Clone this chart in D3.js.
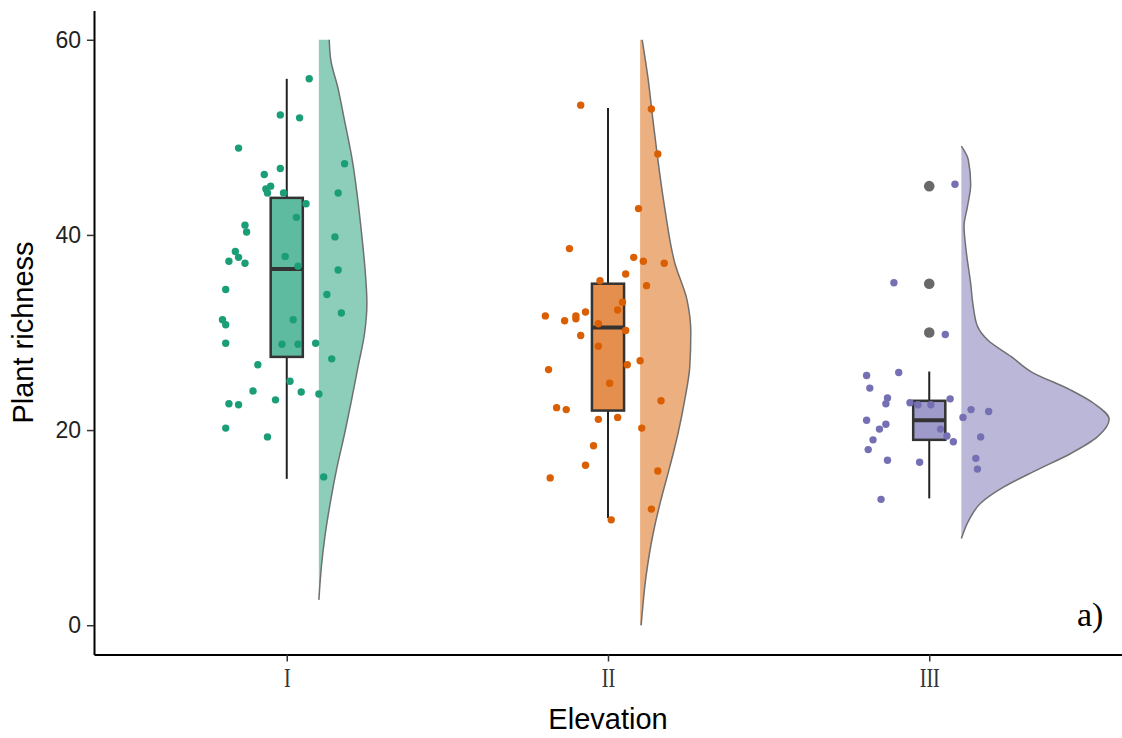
<!DOCTYPE html>
<html>
<head>
<meta charset="utf-8">
<script src="https://cdn.jsdelivr.net/npm/d3@7"></script>
<style>
  body { margin: 0; background: #fff; }
  svg { display: block; }
</style>
</head>
<body>
<div id="chart"></div>
<script>
// Elevation classes and their colours (Dark2)
const groups = ['I', 'II', 'III'];
const colors = ['#1B9E77', '#D95F02', '#7570B3'];

// plant richness of each plot, as plotted (jittered) in the figure
const richI = [56.0, 52.3, 52.0, 48.9, 47.3, 46.2, 46.8, 45.0, 44.7, 44.3, 44.3, 44.3, 43.2, 41.8,
  41.0, 40.3, 39.8, 38.3, 37.7, 37.3, 37.1, 37.8, 36.8, 36.4, 34.4, 33.9, 32.0, 31.3, 30.8, 31.3,
  28.9, 28.8, 28.8, 28.9, 27.3, 26.7, 25.0, 24.0, 23.9, 23.7, 23.1, 22.7, 22.6, 20.2, 19.3, 15.2];
const richII = [53.3, 52.9, 48.3, 42.7, 38.6, 37.7, 37.3, 37.1, 36.0, 35.3, 34.8, 33.1, 32.3, 32.1,
  31.7, 31.7, 31.4, 31.2, 30.9, 30.2, 29.7, 28.6, 26.7, 27.1, 26.2, 24.8, 23.0, 22.3, 22.1, 21.1,
  21.3, 20.2, 18.4, 16.4, 15.8, 15.1, 11.9, 10.8];
const richIII = [45.2, 35.1, 29.8, 25.6, 25.9, 24.3, 23.3, 22.7, 22.8, 22.6, 22.6, 23.2, 22.1, 21.9,
  21.3, 21.0, 20.6, 20.1, 20.1, 19.4, 18.8, 19.3, 19.0, 18.0, 16.9, 16.7, 17.1, 16.0, 12.9];

// horizontal jitter of each point, in category units
const jitI = [0.07, -0.02, 0.04, -0.15, 0.18, -0.07, -0.02, -0.05, -0.065, -0.06, -0.01, 0.16, 0.06, 0.03,
  -0.13, -0.125, 0.15, -0.16, -0.15, -0.18, -0.13, -0.005, 0.035, 0.16, -0.19, 0.125, 0.17, -0.2, -0.19, 0.02,
  -0.19, -0.015, 0.035, 0.09, 0.14, -0.09, 0.01, -0.105, 0.045, 0.1, -0.035, -0.18, -0.15, -0.19, -0.06, 0.115];
const jitII = [-0.085, 0.135, 0.155, 0.095, -0.12, 0.08, 0.11, 0.175, 0.055, -0.025, 0.12, 0.045, 0.03, -0.07,
  -0.195, -0.1, -0.1, -0.135, -0.03, 0.055, -0.085, -0.03, 0.06, 0.1, -0.185, 0.005, 0.165, -0.16, -0.13, -0.03,
  0.03, 0.105, -0.045, -0.07, 0.155, -0.18, 0.135, 0.01];
const jitIII = [0.08, -0.11, 0.05, -0.195, -0.095, -0.185, -0.13, -0.135, -0.06, -0.035, 0.005, 0.065, 0.13, 0.185,
  0.105, -0.195, -0.135, -0.155, 0.035, 0.055, 0.075, 0.16, -0.175, -0.19, -0.13, -0.03, 0.145, 0.15, -0.15];

// boxplot statistics: [lower whisker, Q1, median, Q3, upper whisker]
const boxI = [15, 27.5, 36.5, 43.8, 56];
const boxII = [11, 22, 30.5, 35, 53];
const boxIII = [13, 19, 21, 23, 26];
const outI = [];
const outII = [];
const outIII = [30, 35, 45];

// density clouds: [richness, relative density (1 = widest cloud)]
const densI = [[60, 0.07], [58, 0.08], [55, 0.13], [52, 0.17], [47.3, 0.23], [44, 0.26], [40, 0.29],
  [36, 0.315], [33, 0.325], [30, 0.31], [26.5, 0.265], [23, 0.22], [19.7, 0.175], [16, 0.12],
  [12.8, 0.08], [9, 0.04], [6, 0.017], [2.6, 0]];
const densII = [[60, 0.014], [56, 0.054], [52, 0.085], [48.3, 0.115], [42.7, 0.167], [37.1, 0.235],
  [33.3, 0.318], [30, 0.343], [26.5, 0.336], [23.1, 0.302], [19.7, 0.257], [16.2, 0.2], [12.8, 0.14],
  [9.4, 0.088], [5, 0.04], [0, 0.007]];
const densIII = [[49.1, 0], [47.7, 0.047], [45.2, 0.063], [42.9, 0.041], [40.9, 0.018], [38.8, 0.029],
  [35, 0.063], [32.6, 0.081], [30.6, 0.11], [29.2, 0.18], [27.5, 0.34], [26, 0.47], [24.1, 0.74],
  [22.7, 0.9], [21.1, 1], [19.3, 0.92], [17.6, 0.74], [15.9, 0.51], [14.2, 0.29], [12.5, 0.13],
  [10.8, 0.052], [8.9, 0]];

const yTicks = [0, 20, 40, 60];

const width = 1122;
const height = 738;
const margin = { left: 94, top: 10.5, bottom: 654.5 };

const svg = d3.select('#chart')
  .append('svg')
  .attr('width', width)
  .attr('height', height)
  .style('font-family', '"Liberation Sans", Arial, sans-serif');

const x = d3.scalePoint()
  .domain(groups)
  .range([margin.left, width])
  .padding(0.6);
const step = x.step();

const y = d3.scaleLinear()
  .domain([-3, 63])
  .range([margin.bottom, margin.top]);

// width of a cloud for a given relative density
const w = d3.scaleLinear().domain([0, 1]).range([0, 0.46 * step]);

const data = [
  { name: 'I', values: richI, jitter: jitI, box: boxI, out: outI, dens: densI },
  { name: 'II', values: richII, jitter: jitII, box: boxII, out: outII, dens: densII },
  { name: 'III', values: richIII, jitter: jitIII, box: boxIII, out: outIII, dens: densIII }
];

// half violins (clouds), nudged right of the box
const cloudLine = d3.line().curve(d3.curveMonotoneY);
data.forEach((g, i) => {
  const x0 = x(g.name) + 0.1 * step;
  const curve = g.dens.map(p => [x0 + w(p[1]), y(p[0])]);
  const top = [x0, y(g.dens[0][0])];
  const bottom = [x0, y(g.dens[g.dens.length - 1][0])];

  svg.append('path')
    .attr('d', `M${top}L` + cloudLine(curve).slice(1) + `L${bottom}Z`)
    .attr('fill', colors[i])
    .attr('fill-opacity', 0.5);

  svg.append('path')
    .attr('d', cloudLine(curve))
    .attr('fill', 'none')
    .attr('stroke', '#707070')
    .attr('stroke-width', 1.5);
});

// boxplots
const boxW = 0.1 * step;
data.forEach((g, i) => {
  const cx = x(g.name);
  const [lo, q1, med, q3, hi] = g.box;

  svg.append('line')
    .attr('x1', cx).attr('x2', cx)
    .attr('y1', y(lo)).attr('y2', y(q1))
    .attr('stroke', '#222').attr('stroke-width', 2);
  svg.append('line')
    .attr('x1', cx).attr('x2', cx)
    .attr('y1', y(q3)).attr('y2', y(hi))
    .attr('stroke', '#222').attr('stroke-width', 2);

  svg.append('rect')
    .attr('x', cx - boxW / 2)
    .attr('y', y(q3))
    .attr('width', boxW)
    .attr('height', y(q1) - y(q3))
    .attr('fill', colors[i])
    .attr('fill-opacity', 0.7)
    .attr('stroke', '#333')
    .attr('stroke-width', 2.5);

  svg.append('line')
    .attr('x1', cx - boxW / 2).attr('x2', cx + boxW / 2)
    .attr('y1', y(med)).attr('y2', y(med))
    .attr('stroke', '#333').attr('stroke-width', 4);

  svg.selectAll(null)
    .data(g.out)
    .enter()
    .append('circle')
    .attr('cx', cx)
    .attr('cy', d => y(d))
    .attr('r', 5.3)
    .attr('fill', '#696969');
});

// jittered raw points (rain)
data.forEach((g, i) => {
  svg.selectAll(null)
    .data(g.values)
    .enter()
    .append('circle')
    .attr('cx', (d, j) => x(g.name) + g.jitter[j] * step)
    .attr('cy', d => y(d))
    .attr('r', 3.7)
    .attr('fill', colors[i]);
});

// axes
const yAxis = svg.append('g')
  .attr('transform', `translate(${margin.left},0)`)
  .call(d3.axisLeft(y).tickValues(yTicks).tickSize(7).tickSizeOuter(0).tickPadding(6));

yAxis.select('.domain').attr('stroke', '#000').attr('stroke-width', 2);
yAxis.selectAll('.tick line').attr('stroke', '#333').attr('stroke-width', 1.5);
yAxis.selectAll('.tick text')
  .attr('fill', '#222')
  .style('font-size', '23px')
  .style('font-family', '"Liberation Sans", Arial, sans-serif');

const xAxis = svg.append('g')
  .attr('transform', `translate(0,${margin.bottom})`)
  .call(d3.axisBottom(x).tickSize(7).tickSizeOuter(0).tickPadding(6));

xAxis.select('.domain').attr('stroke', '#000').attr('stroke-width', 2);
xAxis.selectAll('.tick line').attr('stroke', '#333').attr('stroke-width', 1.5);
xAxis.selectAll('.tick text')
  .attr('fill', '#333')
  .attr('transform', 'scale(0.72,1)')
  .style('font-size', '28px')
  .style('font-family', '"Liberation Serif", "Times New Roman", serif');

// axis titles
svg.append('text')
  .attr('x', x('II'))
  .attr('y', 729)
  .attr('text-anchor', 'middle')
  .style('font-size', '29px')
  .text('Elevation');

svg.append('text')
  .attr('transform', `translate(33,${y(30)}) rotate(-90)`)
  .attr('text-anchor', 'middle')
  .style('font-size', '29px')
  .text('Plant richness');

// panel tag
svg.append('text')
  .attr('x', 1077)
  .attr('y', 626)
  .style('font-size', '34px')
  .style('font-family', '"Liberation Serif", "Times New Roman", serif')
  .text('a)');
</script>
</body>
</html>
